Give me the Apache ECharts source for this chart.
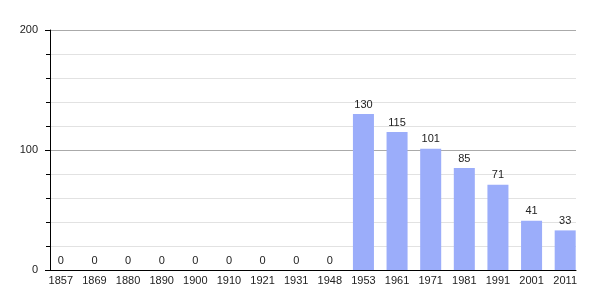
<!DOCTYPE html>
<html><head><meta charset="utf-8">
<script src="https://cdn.jsdelivr.net/npm/echarts@6/dist/echarts.min.js"></script>
<style>html,body{margin:0;padding:0;background:#fff}#c{width:605px;height:300px}</style>
</head><body><div id="c"></div>
<script>
const years = ['1857','1869','1880','1890','1900','1910','1921','1931','1948','1953','1961','1971','1981','1991','2001','2011'];
const population = [0,0,0,0,0,0,0,0,0,130,115,101,85,71,41,33];
const yTicks = [0,100,200];

const font = 'Liberation Sans, Arial, sans-serif';
const chart = echarts.init(document.getElementById('c'));
chart.setOption({
  animation:false,
  grid:[{left:50,right:29,top:30,bottom:30},{left:44,right:23,top:30,bottom:30}],
  xAxis:[
    {type:'category',gridIndex:0,data:years,
      axisLine:{lineStyle:{color:'#000',width:1}},
      axisTick:{show:false},axisLabel:{show:false}},
    {type:'category',gridIndex:1,data:years,
      axisLine:{show:false},axisTick:{show:false},
      axisLabel:{color:'#222',fontSize:11,fontFamily:font,margin:5}}
  ],
  yAxis:[
    {type:'value',gridIndex:0,min:yTicks[0],max:yTicks[yTicks.length-1],interval:100,
      axisLine:{show:true,lineStyle:{color:'#000'}},
      axisTick:{show:true,length:5,lineStyle:{color:'#000'}},
      minorTick:{show:true,splitNumber:5,length:4,lineStyle:{color:'#000'}},
      splitLine:{lineStyle:{color:'#aaa'}},
      minorSplitLine:{show:true,lineStyle:{color:'#e2e2e2'}},
      axisLabel:{color:'#222',fontSize:11,fontFamily:font,margin:12}},
    {type:'value',gridIndex:1,min:yTicks[0],max:yTicks[yTicks.length-1],interval:100,show:false}
  ],
  series:[{type:'bar',xAxisIndex:1,yAxisIndex:1,data:population,barCategoryGap:'37.5%',
    itemStyle:{color:'#9badfa'},
    label:{show:true,position:'top',color:'#222',fontSize:11,fontFamily:font,distance:4}}]
});
</script></body></html>
